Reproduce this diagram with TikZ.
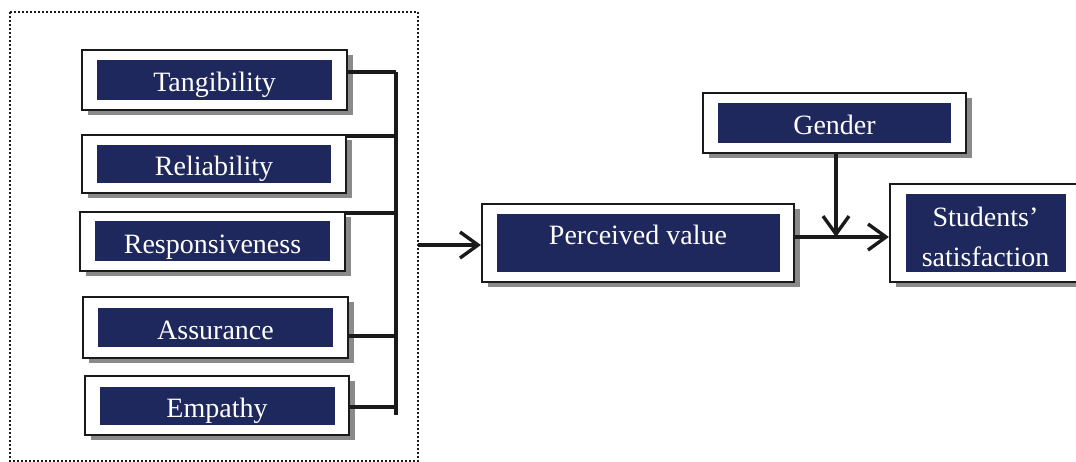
\documentclass[tikz,border=0pt]{standalone}
\usepackage{fontspec}
\setmainfont{Liberation Serif}
\usetikzlibrary{arrows.meta,shadows,calc}

\definecolor{navy}{RGB}{31,40,92}
\definecolor{shade}{RGB}{138,138,138}
\definecolor{ink}{RGB}{26,26,26}

\tikzset{
  outerbox/.style={draw=ink, line width=2.2pt, fill=white, inner sep=0pt,
    drop shadow={shadow xshift=6pt, shadow yshift=-5pt, fill=shade, opacity=1}},
  innerbox/.style={fill=navy, text=white, inner sep=0pt,
    text height=30pt, text depth=6pt,
    font=\fontsize{28}{40}\selectfont},
  boxlabel/.style={text=white, inner sep=0pt, anchor=base,
    font=\fontsize{28}{40}\selectfont},
  wire/.style={draw=ink, line width=3.4pt},
  arrowwire/.style={wire, -{Straight Barb[length=18pt,width=26pt]}},
  dotframe/.style={draw=ink, line width=1.6pt, dash pattern=on 1.6pt off 2.4pt}
}

\begin{document}
\begin{tikzpicture}[x=1pt,y=-1pt]
\useasboundingbox (0,0) rectangle (1076,462);

% dotted frame around the service-quality dimensions
\draw[dotframe] (10,12) rectangle (418,461);

% service-quality dimensions
\node[outerbox, minimum width=265pt, minimum height=60pt] (tang) at (214.5,80) {};
\node[innerbox, minimum width=235pt, minimum height=40pt] (tangin) at (tang) {Tangibility};

\node[outerbox, minimum width=264pt, minimum height=58pt] (reli) at (214,164) {};
\node[innerbox, minimum width=234pt, minimum height=38pt] (reliin) at (reli) {Reliability};

\node[outerbox, minimum width=265pt, minimum height=59pt] (resp) at (212.5,241.5) {};
\node[innerbox, minimum width=235pt, minimum height=40pt] (respin) at (resp) {Responsiveness};

\node[outerbox, minimum width=265pt, minimum height=61pt] (assu) at (215.5,327.5) {};
\node[innerbox, minimum width=235pt, minimum height=39pt] (assuin) at (assu) {Assurance};

\node[outerbox, minimum width=264pt, minimum height=59pt] (emp) at (217,405.5) {};
\node[innerbox, minimum width=235pt, minimum height=38pt] (empin) at (emp) {Empathy};

% mediator, moderator and outcome
\node[outerbox, minimum width=312pt, minimum height=78pt] (perc) at (638,243) {};
\node[innerbox, minimum width=283pt, minimum height=58pt] (percin) at (perc) {};
\node[boxlabel] (perctext) at (638,245) {Perceived value};

\node[outerbox, minimum width=263pt, minimum height=60pt] (gend) at (834.5,123) {};
\node[innerbox, minimum width=233pt, minimum height=40pt] (gendin) at (gend) {Gender};

\node[outerbox, minimum width=190pt, minimum height=98pt] (sat) at (985,233) {};
\node[innerbox, minimum width=160pt, minimum height=78pt] (satin) at (985.5,233.5) {};
\node[boxlabel] (sattext1) at (985.5,227) {Students’};
\node[boxlabel] (sattext2) at (985.5,267) {satisfaction};

% bus collecting the five dimensions
\coordinate (bus1) at (396,72);
\coordinate (bus2) at (396,136);
\coordinate (bus3) at (396,213);
\coordinate (bus4) at (396,336);
\coordinate (bus5) at (396,407);
\coordinate (busend) at (396,415);

\draw[wire] (bus1) -- (busend);
\draw[wire] (tang.east |- bus1) -- (bus1);
\draw[wire] (reli.east |- bus2) -- (bus2);
\draw[wire] (resp.east |- bus3) -- (bus3);
\draw[wire] (assu.east |- bus4) -- (bus4);
\draw[wire] (emp.east |- bus5) -- (bus5);

% frame to perceived value
\coordinate (frameout) at (418,245);
\draw[arrowwire] (frameout) -- (perc.west |- frameout);

% perceived value to satisfaction, moderated by gender
\coordinate (junction) at (836,237);
\draw[arrowwire] (perc.east |- junction) -- (sat.west |- junction);
\draw[arrowwire] (gend.south -| junction) -- (junction);
\end{tikzpicture}
\end{document}
